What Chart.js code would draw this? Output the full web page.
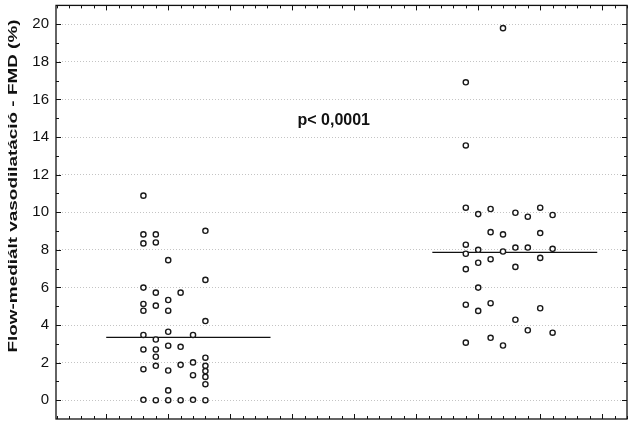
<!DOCTYPE html>
<html lang="hu">
<head>
<meta charset="UTF-8" />
<title>FMD</title>
<script src="https://cdn.jsdelivr.net/npm/chart.js@4.4.1/dist/chart.umd.min.js"></script>
<style>
  html, body { margin: 0; padding: 0; background: #fff; }
  canvas { display: block; }
</style>
</head>
<body>
<canvas id="fmdChart" width="633" height="439"></canvas>
<script>
// group 1 (left column) - x is the jitter column, y is FMD %
const group1X = [1.6, 1.6, 1.8, 1.6, 1.8, 2.6, 2.0, 2.6, 1.6, 1.8, 2.2, 2.0, 1.6, 1.8, 1.6, 2.0, 2.6,
  1.6, 2.0, 2.4, 1.8, 1.6, 1.8, 2.0, 2.2, 1.8, 1.8, 2.2, 2.4, 2.6, 2.6, 2.6, 2.6, 2.6, 1.6, 2.0, 2.4,
  2.0, 1.6, 1.8, 2.0, 2.2, 2.4, 2.6];
const group1Y = [10.88, 8.82, 8.82, 8.34, 8.39, 9.01, 7.45, 6.40, 5.99, 5.72, 5.72, 5.33, 5.12, 5.03, 4.76, 4.76, 4.21,
  3.47, 3.64, 3.47, 3.23, 2.70, 2.70, 2.90, 2.84, 2.31, 1.83, 1.88, 2.01, 2.26, 1.83, 1.55, 1.24, 0.85, 1.65, 1.58, 1.33,
  0.52, 0.02, 0.0, 0.0, 0.0, 0.02, 0.0];

// group 2 (right column)
const group2X = [7.4, 6.8, 6.8, 6.8, 7.0, 7.2, 7.6, 7.8, 8.0, 8.2, 7.2, 7.4, 8.0, 6.8, 6.8, 7.0, 7.4, 7.6, 7.8, 8.2,
  7.0, 7.2, 8.0, 6.8, 7.6, 7.0, 6.8, 7.2, 7.0, 8.0, 7.6, 7.8, 8.2, 6.8, 7.2, 7.4];
const group2Y = [19.79, 16.91, 13.55, 10.24, 9.90, 10.17, 9.97, 9.76, 10.24, 9.85, 8.94, 8.82, 8.89, 8.27, 7.79, 8.0, 7.91, 8.12, 8.12, 8.05,
  7.31, 7.50, 7.57, 6.97, 7.09, 5.99, 5.08, 5.16, 4.75, 4.89, 4.28, 3.72, 3.59, 3.06, 3.32, 2.91];

// median lines
const median1X = [1.0, 3.65];
const median1Y = [3.34, 3.34];
const median2X = [6.26, 8.92];
const median2Y = [7.86, 7.86];

const yTickValues = [0, 2, 4, 6, 8, 10, 12, 14, 16, 18, 20];
const yTitle = "Flow-mediált vasodilatáció - FMD (%)";
const pText = "p< 0,0001";
const pPos = { x: 4.67, y: 14.88 };

const FONT = "'Liberation Sans', Arial, sans-serif";

const toPoints = (xs, ys) => xs.map((x, i) => ({ x: x, y: ys[i] }));

// frame, inward tick marks, y title and p-value label
const framePlugin = {
  id: "frame",
  afterDraw(chart) {
    const { ctx, chartArea: a, scales } = chart;
    const xs = scales.x, ys = scales.y;
    ctx.save();
    ctx.strokeStyle = "#111";
    ctx.lineWidth = 1.3;
    ctx.strokeRect(a.left, a.top, a.right - a.left, a.bottom - a.top);

    ctx.lineWidth = 1;
    ctx.beginPath();
    for (let k = 1; k <= 47; k++) {
      const v = k * 0.2;
      if (v < xs.min || v > xs.max) continue;
      const px = Math.round(xs.getPixelForValue(v)) + 0.5;
      const len = (k % 5 === 0) ? 5 : 3;
      ctx.moveTo(px, a.bottom); ctx.lineTo(px, a.bottom - len);
      ctx.moveTo(px, a.top); ctx.lineTo(px, a.top + len);
    }
    for (let v = 0; v <= 21; v++) {
      const py = Math.round(ys.getPixelForValue(v)) + 0.5;
      const len = (v % 2 === 0) ? 5 : 3;
      ctx.moveTo(a.left, py); ctx.lineTo(a.left + len, py);
      ctx.moveTo(a.right, py); ctx.lineTo(a.right - len, py);
    }
    ctx.stroke();

    ctx.fillStyle = "#111";
    ctx.font = "bold 16px " + FONT;
    ctx.textAlign = "center";
    ctx.textBaseline = "middle";
    ctx.fillText(pText, xs.getPixelForValue(pPos.x), ys.getPixelForValue(pPos.y));

    // the axis title is stretched along its length in the original
    ctx.font = "bold 13px " + FONT;
    ctx.textBaseline = "alphabetic";
    const w = ctx.measureText(yTitle).width;
    ctx.translate(17, 186);
    ctx.rotate(-Math.PI / 2);
    ctx.scale(333 / w, 1);
    ctx.fillText(yTitle, 0, 0);
    ctx.restore();
  }
};

new Chart(document.getElementById("fmdChart").getContext("2d"), {
  type: "scatter",
  data: {
    datasets: [
      {
        data: toPoints(group1X, group1Y),
        pointRadius: 2.6,
        pointBorderWidth: 1.4,
        pointBorderColor: "#1a1a1a",
        pointBackgroundColor: "#fff"
      },
      {
        data: toPoints(group2X, group2Y),
        pointRadius: 2.6,
        pointBorderWidth: 1.4,
        pointBorderColor: "#1a1a1a",
        pointBackgroundColor: "#fff"
      },
      {
        data: toPoints(median1X, median1Y),
        showLine: true,
        pointRadius: 0,
        borderColor: "#111",
        borderWidth: 1.3
      },
      {
        data: toPoints(median2X, median2Y),
        showLine: true,
        pointRadius: 0,
        borderColor: "#111",
        borderWidth: 1.3
      }
    ]
  },
  options: {
    responsive: false,
    animation: false,
    layout: { padding: { top: 5, right: 6, left: 0, bottom: 0 } },
    plugins: {
      legend: { display: false },
      tooltip: { enabled: false }
    },
    scales: {
      x: {
        type: "linear",
        min: 0.19,
        max: 9.4,
        grid: { display: false },
        border: { display: false },
        ticks: { display: false },
        afterFit(scale) {
          scale.height = 20;
          scale.paddingLeft = 0;
          scale.paddingRight = 0;
        }
      },
      y: {
        type: "linear",
        min: -1,
        max: 21,
        afterBuildTicks(scale) { scale.ticks = yTickValues.map(v => ({ value: v })); },
        afterFit(scale) {
          scale.width = 56;
          scale.paddingTop = 0;
          scale.paddingBottom = 0;
        },
        grid: { color: "#c4c4c4", lineWidth: 1, drawTicks: false },
        border: { display: false, dash: [1, 2] },
        ticks: {
          padding: 7,
          color: "#111",
          font: { family: FONT, size: 15 }
        }
      }
    }
  },
  plugins: [framePlugin]
});
</script>
</body>
</html>
